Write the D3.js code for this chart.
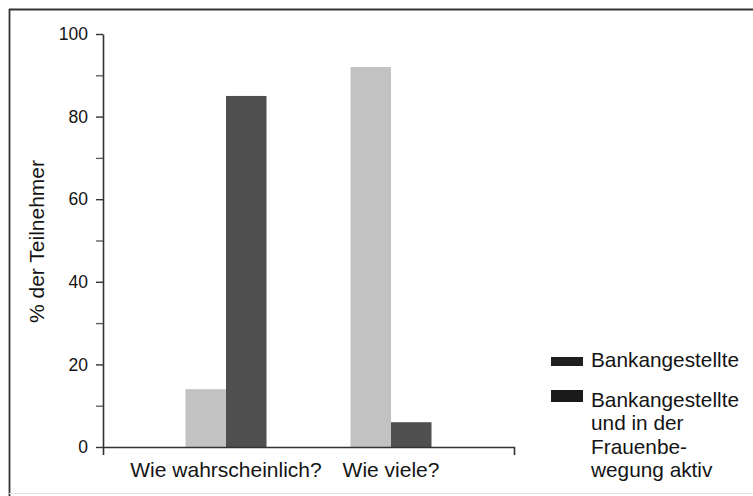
<!DOCTYPE html>
<html>
<head>
<meta charset="utf-8">
<script src="https://cdn.jsdelivr.net/npm/d3@7"></script>
<style>
  html, body { margin: 0; padding: 0; background: #fff; }
  svg { display: block; font-family: "Liberation Sans", Arial, Helvetica, sans-serif; }
</style>
</head>
<body>
<svg id="chart" width="753" height="496"></svg>
<script>
// ---- data ----
const categories = ["Wie wahrscheinlich?", "Wie viele?"];
const seriesNames = ["Bankangestellte", "Bankangestellte und in der Frauenbewegung aktiv"];
const bankangestellte = [14, 92];
const frauenbewegung = [85, 6];
const yMajorTicks = [0, 20, 40, 60, 80, 100];
const yMinorTicks = [10, 30, 50, 70, 90];
const legendLines = [["Bankangestellte"], ["Bankangestellte", "und in der", "Frauenbe-", "wegung aktiv"]];
const barColors = ["#c2c2c2", "#4f4f4f"];
const legendColors = ["#1f1f1f", "#1a1a1a"];
const yLabel = "% der Teilnehmer";

const svg = d3.select("#chart");
const ink = "#141414";

// frame
svg.append("line").attr("x1", 9).attr("x2", 753).attr("y1", 9.5).attr("y2", 9.5)
  .attr("stroke", "#333").attr("stroke-width", 1.8);
svg.append("line").attr("x1", 9.5).attr("x2", 9.5).attr("y1", 9).attr("y2", 496)
  .attr("stroke", "#333").attr("stroke-width", 1.8);
svg.append("line").attr("x1", 9).attr("x2", 753).attr("y1", 493.5).attr("y2", 493.5)
  .attr("stroke", "#e2e2e2").attr("stroke-width", 1);

// scales
const y = d3.scaleLinear().domain([0, 100]).range([447, 34]);
const x0 = d3.scaleBand().domain(categories).range([103, 514]).paddingInner(0.509).paddingOuter(0.5);
const x1 = d3.scaleBand().domain(seriesNames).range([0, x0.bandwidth()]).padding(0);

const values = [bankangestellte, frauenbewegung];

// bars
categories.forEach((c, ci) => {
  seriesNames.forEach((s, si) => {
    svg.append("rect")
      .attr("x", x0(c) + x1(s))
      .attr("y", y(values[si][ci]))
      .attr("width", x1.bandwidth())
      .attr("height", y(0) - y(values[si][ci]))
      .attr("fill", barColors[si]);
  });
});

// y axis - minor ticks
const gMinor = svg.append("g").attr("transform", "translate(103,0)")
  .call(d3.axisLeft(y).tickValues(yMinorTicks).tickSize(7).tickFormat(""));
gMinor.select(".domain").remove();
gMinor.selectAll("line").attr("stroke", "#555").attr("stroke-width", 1.3);

// y axis - major
const gY = svg.append("g").attr("transform", "translate(103,0)")
  .call(d3.axisLeft(y).tickValues(yMajorTicks).tickSize(7).tickSizeOuter(0).tickPadding(8));
gY.select(".domain").attr("stroke", "#333").attr("stroke-width", 1.6);
gY.selectAll("line").attr("stroke", "#333").attr("stroke-width", 1.4);
gY.selectAll("text").attr("font-size", 17.5).attr("fill", ink)
  .attr("font-family", "Liberation Sans, Arial, sans-serif");

// x axis
const gX = svg.append("g").attr("transform", `translate(0,${y(0)})`)
  .call(d3.axisBottom(x0).tickSizeInner(0).tickSizeOuter(8).tickPadding(15));
gX.select(".domain").attr("stroke", "#333").attr("stroke-width", 1.6);
gX.selectAll("text").attr("font-size", 21).attr("fill", ink)
  .attr("font-family", "Liberation Sans, Arial, sans-serif");

// y label
svg.append("text")
  .attr("transform", "translate(44,241.5) rotate(-90)")
  .attr("text-anchor", "middle")
  .attr("font-size", 21)
  .attr("fill", ink)
  .text(yLabel);

// legend
const legendY = [357, 390];
legendLines.forEach((lines, i) => {
  svg.append("rect")
    .attr("x", 551).attr("y", legendY[i])
    .attr("width", 32).attr("height", i === 0 ? 9 : 12)
    .attr("fill", legendColors[i]);
  const t = svg.append("text").attr("x", 591).attr("y", legendY[i] + (i === 0 ? 10 : 17))
    .attr("font-size", 20.8).attr("fill", ink);
  lines.forEach((ln, li) => {
    t.append("tspan").attr("x", 591).attr("dy", li === 0 ? 0 : 23.3).text(ln);
  });
});
</script>
</body>
</html>
